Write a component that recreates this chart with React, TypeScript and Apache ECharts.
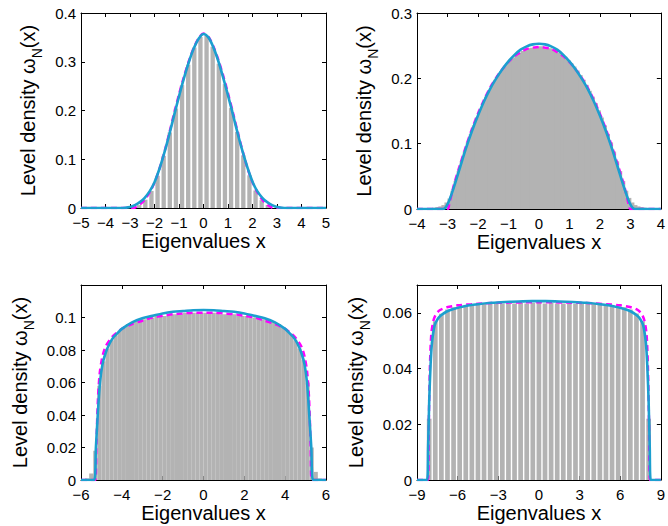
import React, { useEffect, useRef } from 'react';
import * as echarts from 'echarts';

const FONT = '"Liberation Sans", Arial, Helvetica, sans-serif';
const GREY = '#b3b3b3';
const CYAN = '#1c9fcf';
const MAGENTA = '#ff00ff';

// ---------- Panel 1 (top-left) ----------
const p1BinStart = -2.75;
const p1BinWidth = 0.25;
const p1Hist = [0.006, 0.017, 0.035, 0.066, 0.107, 0.155, 0.204, 0.252, 0.294, 0.329, 0.351,
  0.353, 0.331, 0.296, 0.254, 0.205, 0.156, 0.108, 0.067, 0.036, 0.016, 0.006];
const p1Cyan = [[-5, 0], [-3.4, 0], [-3.2, 0.0005], [-3.0, 0.002], [-2.8, 0.006], [-2.6, 0.012], [-2.4, 0.021],
  [-2.2, 0.034], [-2.0, 0.053], [-1.8, 0.08], [-1.6, 0.113], [-1.4, 0.15], [-1.2, 0.19], [-1.0, 0.229],
  [-0.8, 0.266], [-0.6, 0.299], [-0.4, 0.327], [-0.2, 0.347], [0, 0.357], [0.2, 0.35], [0.4, 0.33],
  [0.6, 0.302], [0.8, 0.268], [1.0, 0.231], [1.2, 0.192], [1.4, 0.152], [1.6, 0.115], [1.8, 0.082],
  [2.0, 0.054], [2.2, 0.034], [2.4, 0.021], [2.6, 0.012], [2.8, 0.006], [3.0, 0.002], [3.2, 0.0005],
  [3.4, 0], [5, 0]];
const p1Magenta = [[-5, 0], [-2.9, 0], [-2.8, 0.001], [-2.6, 0.007], [-2.4, 0.017], [-2.2, 0.032], [-2.0, 0.052],
  [-1.8, 0.08], [-1.6, 0.114], [-1.4, 0.153], [-1.2, 0.194], [-1.0, 0.233], [-0.8, 0.269], [-0.6, 0.301],
  [-0.4, 0.328], [-0.2, 0.348], [0, 0.358], [0.2, 0.351], [0.4, 0.332], [0.6, 0.305], [0.8, 0.272],
  [1.0, 0.235], [1.2, 0.196], [1.4, 0.155], [1.6, 0.116], [1.8, 0.081], [2.0, 0.053], [2.2, 0.032],
  [2.4, 0.017], [2.6, 0.007], [2.8, 0.001], [2.9, 0], [5, 0]];

// ---------- Panel 2 (top-right) ----------
const p2BinStart = -3.6;
const p2BinWidth = 0.1;
const p2Hist = [0.001, 0.002, 0.003, 0.004, 0.006, 0.01, 0.016, 0.028, 0.043, 0.058, 0.073, 0.088,
  0.102, 0.115, 0.128, 0.14, 0.152, 0.162, 0.172, 0.181, 0.19, 0.198, 0.205, 0.211, 0.217, 0.223,
  0.228, 0.232, 0.236, 0.239, 0.242, 0.244, 0.246, 0.247, 0.248, 0.248,
  0.249, 0.248, 0.247, 0.246, 0.244, 0.242, 0.239, 0.236, 0.233, 0.228, 0.223, 0.218, 0.212, 0.205,
  0.198, 0.19, 0.181, 0.172, 0.162, 0.151, 0.14, 0.128, 0.115, 0.102, 0.088, 0.073, 0.058, 0.043,
  0.028, 0.017, 0.01, 0.006, 0.004, 0.003, 0.002, 0.001];
const p2Cyan = [[-4, 0], [-3.15, 0], [-3.0, 0.007], [-2.8, 0.032], [-2.6, 0.062], [-2.4, 0.092], [-2.2, 0.119],
  [-2.0, 0.143], [-1.8, 0.165], [-1.6, 0.184], [-1.4, 0.2], [-1.2, 0.214], [-1.0, 0.226], [-0.8, 0.236],
  [-0.6, 0.244], [-0.4, 0.249], [-0.2, 0.252], [0, 0.253], [0.2, 0.252], [0.4, 0.249], [0.6, 0.244],
  [0.8, 0.236], [1.0, 0.226], [1.2, 0.214], [1.4, 0.2], [1.6, 0.184], [1.8, 0.165], [2.0, 0.143],
  [2.2, 0.119], [2.4, 0.092], [2.6, 0.062], [2.8, 0.032], [3.0, 0.007], [3.15, 0], [4, 0]];
const p2Magenta = [[-4, 0], [-3.0, 0], [-2.95, 0.006], [-2.8, 0.035], [-2.6, 0.066], [-2.4, 0.095], [-2.2, 0.122],
  [-2.0, 0.146], [-1.8, 0.167], [-1.6, 0.186], [-1.4, 0.201], [-1.2, 0.214], [-1.0, 0.225], [-0.8, 0.234],
  [-0.6, 0.24], [-0.4, 0.245], [-0.2, 0.247], [0, 0.248], [0.2, 0.247], [0.4, 0.245], [0.6, 0.24],
  [0.8, 0.234], [1.0, 0.225], [1.2, 0.214], [1.4, 0.201], [1.6, 0.186], [1.8, 0.167], [2.0, 0.146],
  [2.2, 0.122], [2.4, 0.095], [2.6, 0.066], [2.8, 0.035], [2.95, 0.006], [3.0, 0], [4, 0]];

// ---------- Panel 3 (bottom-left) ----------
const p3BinStart = -5.8;
const p3BinWidth = 0.2;
const p3Hist = [0.001, 0.004, 0.018, 0.058, 0.073, 0.081, 0.086, 0.089, 0.092, 0.094, 0.096, 0.097,
  0.098, 0.099, 0.099, 0.1, 0.1, 0.101, 0.101, 0.101, 0.102, 0.102, 0.102, 0.102, 0.103, 0.103,
  0.103, 0.103, 0.103,
  0.103, 0.103, 0.103, 0.103, 0.102, 0.102, 0.102, 0.102, 0.101, 0.101, 0.101, 0.1, 0.1, 0.1,
  0.099, 0.099, 0.098, 0.097, 0.096, 0.094, 0.092, 0.09, 0.086, 0.081, 0.074, 0.06, 0.02, 0.005, 0.001];
const p3Cyan = [[-6, 0], [-5.36, 0], [-5.27, 0.02], [-5.18, 0.04], [-5.07, 0.06], [-4.95, 0.071], [-4.8, 0.078],
  [-4.6, 0.084], [-4.4, 0.088], [-4.2, 0.0905], [-4.0, 0.093], [-3.5, 0.097], [-3.0, 0.0995], [-2.5, 0.101],
  [-2.0, 0.1025], [-1.5, 0.1035], [-1.0, 0.104], [-0.5, 0.1045], [0, 0.1046], [0.5, 0.1045], [1.0, 0.104],
  [1.5, 0.1035], [2.0, 0.1025], [2.5, 0.101], [3.0, 0.0995], [3.5, 0.097], [4.0, 0.093], [4.2, 0.0905],
  [4.4, 0.088], [4.6, 0.084], [4.8, 0.078], [4.95, 0.071], [5.07, 0.06], [5.18, 0.04], [5.28, 0.02],
  [5.37, 0], [6, 0]];
const p3Magenta = [[-6, 0], [-5.3, 0], [-5.25, 0.02], [-5.17, 0.05], [-5.08, 0.066], [-4.95, 0.076], [-4.8, 0.082],
  [-4.6, 0.086], [-4.4, 0.089], [-4.2, 0.091], [-4.0, 0.093], [-3.5, 0.096], [-3.0, 0.098], [-2.5, 0.1],
  [-2.0, 0.101], [-1.5, 0.102], [-1.0, 0.1025], [-0.5, 0.103], [0, 0.103], [0.5, 0.103], [1.0, 0.1025],
  [1.5, 0.102], [2.0, 0.101], [2.5, 0.1], [3.0, 0.098], [3.5, 0.096], [4.0, 0.093], [4.2, 0.091],
  [4.4, 0.089], [4.6, 0.086], [4.8, 0.082], [4.95, 0.076], [5.08, 0.066], [5.17, 0.05], [5.25, 0.02],
  [5.3, 0], [6, 0]];

// ---------- Panel 4 (bottom-right) ----------
const p4BinStart = -8.325;
const p4BinWidth = 0.45;
const p4Hist = [0.022, 0.057, 0.0597, 0.0612, 0.062, 0.0624, 0.0627, 0.063, 0.0631, 0.0632, 0.0633,
  0.0633, 0.0634, 0.0634, 0.0634, 0.0635, 0.0634, 0.0635, 0.0635, 0.0634, 0.0635, 0.0634, 0.0634,
  0.0634, 0.0633, 0.0633, 0.0632, 0.0632, 0.0631, 0.063, 0.0627, 0.0624, 0.062, 0.0612, 0.0598,
  0.057, 0.022];
const p4Cyan = [[-9, 0], [-8.26, 0], [-8.18, 0.012], [-8.1, 0.028], [-8.0, 0.041], [-7.9, 0.049], [-7.7, 0.0555],
  [-7.45, 0.058], [-7.2, 0.0592], [-6.8, 0.0605], [-6.3, 0.0614], [-5.5, 0.0624], [-4.5, 0.0631],
  [-3.5, 0.0636], [-2.5, 0.0639], [-1.5, 0.0641], [-0.5, 0.0642], [0, 0.0642], [0.5, 0.0642],
  [1.5, 0.0641], [2.5, 0.0639], [3.5, 0.0636], [4.5, 0.0631], [5.5, 0.0624], [6.3, 0.0614],
  [6.8, 0.0605], [7.2, 0.0592], [7.45, 0.058], [7.7, 0.0555], [7.9, 0.049], [8.0, 0.041], [8.1, 0.028],
  [8.18, 0.012], [8.26, 0], [9, 0]];
const p4Magenta = [[-9, 0], [-8.2, 0], [-8.13, 0.02], [-8.05, 0.04], [-7.95, 0.052], [-7.8, 0.057], [-7.6, 0.0595],
  [-7.3, 0.061], [-6.8, 0.062], [-6.0, 0.0627], [-5.0, 0.0631], [-4.0, 0.0634], [-3.0, 0.0636], [-2.0, 0.0637],
  [-1.0, 0.0638], [0, 0.0638], [1.0, 0.0638], [2.0, 0.0637], [3.0, 0.0636], [4.0, 0.0634], [5.0, 0.0631],
  [6.0, 0.0627], [6.8, 0.062], [7.3, 0.061], [7.6, 0.0595], [7.8, 0.057], [7.95, 0.052], [8.05, 0.04],
  [8.13, 0.02], [8.2, 0], [9, 0]];

// axis ranges
const xRanges = [[-5, 5, 1], [-4, 4, 1], [-6, 6, 2], [-9, 9, 3]];
const yRanges = [[0, 0.4, 0.1], [0, 0.3, 0.1], [0, 0.12, 0.02], [0, 0.07, 0.02]];

const X_NAME = 'Eigenvalues x';
const Y_NAME = 'Level density \u03c9{sub|N}(x)';

const panels = [
  { hist: p1Hist, start: p1BinStart, bw: p1BinWidth, cyan: p1Cyan, magenta: p1Magenta, gap: 1.8, overlap: 0 },
  { hist: p2Hist, start: p2BinStart, bw: p2BinWidth, cyan: p2Cyan, magenta: p2Magenta, gap: 0, overlap: 1 },
  { hist: p3Hist, start: p3BinStart, bw: p3BinWidth, cyan: p3Cyan, magenta: p3Magenta, gap: 0, overlap: 0 },
  { hist: p4Hist, start: p4BinStart, bw: p4BinWidth, cyan: p4Cyan, magenta: p4Magenta, gap: 1.4, overlap: 0 },
];

const gridBoxes = [
  { left: 81, top: 13, width: 245, height: 195 },
  { left: 417, top: 13, width: 247, height: 196 },
  { left: 81, top: 285, width: 245, height: 195 },
  { left: 417, top: 285, width: 247, height: 195 },
];
const yNameGaps = [37, 37, 45, 45];

const fmt = (v: number) => {
  const r = parseFloat(v.toFixed(4));
  return r < 0 ? '\u2212' + String(Math.abs(r)) : String(r);
};

function buildOption() {
  const grid: any[] = [];
  const xAxis: any[] = [];
  const yAxis: any[] = [];
  const series: any[] = [];
  const lineCommon = { color: '#000', width: 1 };
  panels.forEach((p, i) => {
    grid.push({ ...gridBoxes[i], containLabel: false });
    const [xmin, xmax, xint] = xRanges[i];
    const [ymin, ymax, yint] = yRanges[i];
    const hideYMax = i >= 2;
    const xBase = {
      type: 'value', gridIndex: i, min: xmin, max: xmax, interval: xint,
      splitLine: { show: false },
      axisLine: { show: true, onZero: false, lineStyle: lineCommon },
      axisTick: { show: true, inside: true, length: 4, lineStyle: lineCommon },
    };
    xAxis.push({
      ...xBase, position: 'bottom',
      axisLabel: { show: true, color: '#000', fontSize: 15, fontFamily: FONT, margin: 7, formatter: fmt, showMinLabel: true, showMaxLabel: true },
      name: X_NAME, nameLocation: 'middle', nameGap: 23,
      nameTextStyle: { fontSize: 20, fontFamily: FONT, color: '#000' },
    });
    xAxis.push({ ...xBase, position: 'top', axisLabel: { show: false } });
    const yBase = {
      type: 'value', gridIndex: i, min: ymin, max: ymax, interval: yint,
      splitLine: { show: false },
      axisLine: { show: true, onZero: false, lineStyle: lineCommon },
      axisTick: { show: true, inside: true, length: 4, lineStyle: lineCommon },
    };
    yAxis.push({
      ...yBase, position: 'left',
      axisLabel: { show: true, color: '#000', fontSize: 15, fontFamily: FONT, margin: 5, formatter: fmt, showMinLabel: true, showMaxLabel: !hideYMax },
      name: Y_NAME, nameLocation: 'middle', nameGap: yNameGaps[i],
      nameTextStyle: {
        fontSize: 20, fontFamily: FONT, color: '#000',
        rich: { sub: { fontSize: 14, fontFamily: FONT, color: '#000', padding: [18, 0, 0, 0] } },
      },
    });
    yAxis.push({ ...yBase, position: 'right', axisLabel: { show: false } });

    const bw = p.bw;
    const gap = p.gap;
    const overlap = p.overlap;
    series.push({
      type: 'custom',
      xAxisIndex: 2 * i, yAxisIndex: 2 * i,
      clip: true, silent: true, z: 1,
      data: p.hist.map((v, k) => [p.start + bw * (k + 0.5), v]),
      renderItem: (params: any, api: any) => {
        const c = api.value(0);
        const v = api.value(1);
        const a = api.coord([c - bw / 2, v]);
        const b = api.coord([c + bw / 2, 0]);
        return {
          type: 'rect',
          shape: { x: a[0] + gap / 2, y: a[1], width: Math.max(0.5, b[0] - a[0] - gap + overlap), height: b[1] - a[1] },
          style: { fill: GREY },
        };
      },
    });
    series.push({
      type: 'line', xAxisIndex: 2 * i, yAxisIndex: 2 * i, data: p.magenta,
      showSymbol: false, symbol: 'none', smooth: 0.3, silent: true, z: 2,
      lineStyle: { color: MAGENTA, width: 2.5, type: [6, 4] },
    });
    series.push({
      type: 'line', xAxisIndex: 2 * i, yAxisIndex: 2 * i, data: p.cyan,
      showSymbol: false, symbol: 'none', smooth: 0.3, silent: true, z: 3,
      lineStyle: { color: CYAN, width: 2.6 },
    });
  });
  return {
    animation: false,
    backgroundColor: '#ffffff',
    textStyle: { fontFamily: FONT },
    grid, xAxis, yAxis, series,
  };
}

export default function App() {
  const ref = useRef<HTMLDivElement | null>(null);
  useEffect(() => {
    if (!ref.current) return;
    const chart = echarts.init(ref.current, undefined, { renderer: 'svg' });
    chart.setOption(buildOption() as any);
    return () => chart.dispose();
  }, []);
  return (
    <div
      ref={ref}
      style={{ position: 'absolute', left: 0, top: 0, width: 668, height: 526, background: '#fff' }}
    />
  );
}
